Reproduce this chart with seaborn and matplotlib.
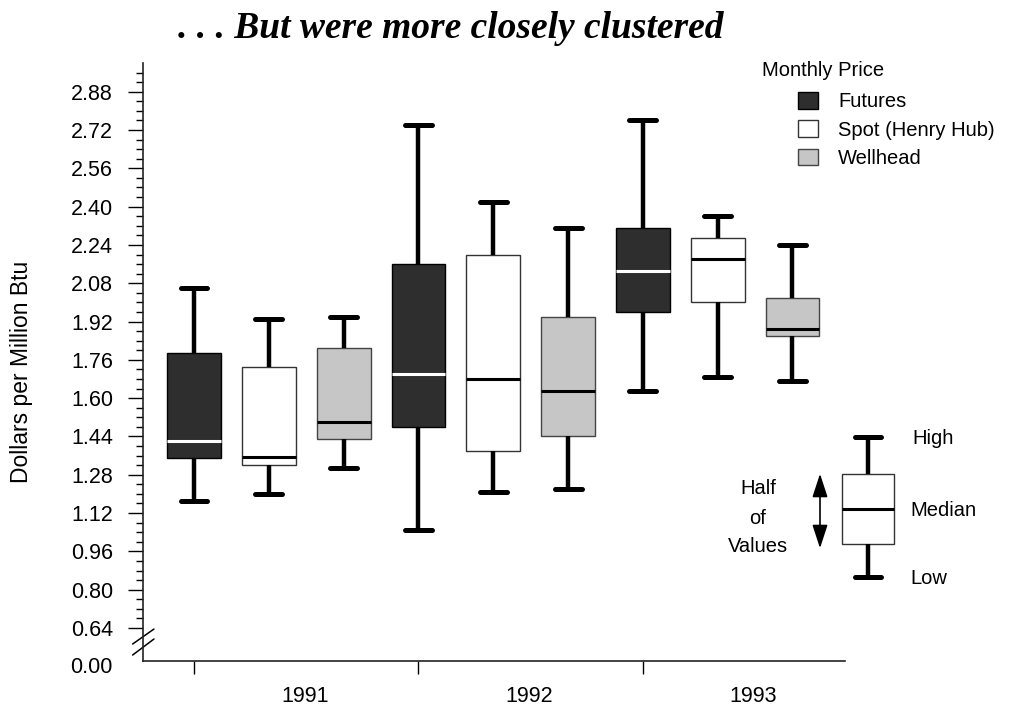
import numpy as np
import pandas as pd
import matplotlib.pyplot as plt
from matplotlib.patches import Patch, FancyArrowPatch
from matplotlib.ticker import FixedLocator
import seaborn as sns

# -----------------------------
# Data: low, lower quartile, median, upper quartile, high
# -----------------------------
years = ["1991", "1992", "1993"]
series = ["Futures", "Spot (Henry Hub)", "Wellhead"]

futures = [[1.17, 1.35, 1.42, 1.79, 2.06],
           [1.05, 1.48, 1.70, 2.16, 2.74],
           [1.63, 1.96, 2.13, 2.31, 2.76]]
spot = [[1.20, 1.32, 1.355, 1.73, 1.93],
        [1.21, 1.38, 1.68, 2.20, 2.42],
        [1.69, 2.00, 2.18, 2.27, 2.36]]
wellhead = [[1.31, 1.43, 1.50, 1.81, 1.94],
            [1.22, 1.44, 1.63, 1.94, 2.31],
            [1.67, 1.86, 1.89, 2.02, 2.24]]

y_ticks = [0.64, 0.80, 0.96, 1.12, 1.28, 1.44, 1.60, 1.76,
           1.92, 2.08, 2.24, 2.40, 2.56, 2.72, 2.88]

# illustrative box for the "how to read" key
key_values = [0, 33, 68, 103, 140]

rows = []
for name, stats in zip(series, [futures, spot, wellhead]):
    for year, vals in zip(years, stats):
        for v in vals:
            rows.append((year, name, v))
df = pd.DataFrame(rows, columns=["year", "series", "price"])

# Style
sns.set_style("ticks")
plt.rcParams["font.family"] = ["Liberation Sans", "DejaVu Sans"]
plt.rcParams["text.color"] = "black"
plt.rcParams["xtick.color"] = "black"
plt.rcParams["ytick.color"] = "black"

styles = {
    "Futures": dict(face="#2e2e2e", edge="black", median="white"),
    "Spot (Henry Hub)": dict(face="white", edge="#333333", median="black"),
    "Wellhead": dict(face="#c6c6c6", edge="#444444", median="black"),
}

fig = plt.figure(figsize=(10.21, 7.11), dpi=100)
ax = fig.add_axes([0.140, 0.0703, 0.688, 0.8411])

# -----------------------------
# Boxes, one series at a time so each gets its own median colour
# -----------------------------
for name in series:
    st = styles[name]
    sub = df[df["series"] == name]
    sns.boxplot(data=sub, x="year", y="price", hue="series",
                order=years, hue_order=series, dodge=True,
                width=1.0, gap=0.28, whis=(0, 100), saturation=1,
                palette={s: st["face"] for s in series},
                linecolor=st["edge"], linewidth=1.0,
                medianprops=dict(color=st["median"], linewidth=2.2),
                whiskerprops=dict(color="black", linewidth=3.2),
                capprops=dict(color="black", linewidth=3.6),
                legend=False, ax=ax)

# -----------------------------
# Axes
# -----------------------------
ax.set_xlim(-0.561, 2.569)
ax.set_ylim(0.502, 3.0)
sns.despine(ax=ax)
for side in ["left", "bottom"]:
    ax.spines[side].set_color("#222222")
    ax.spines[side].set_linewidth(1.2)

ax.set_yticks(y_ticks)
ax.set_yticklabels([f"{t:.2f}" for t in y_ticks], fontsize=15.5)
ax.yaxis.set_minor_locator(FixedLocator([t for t in np.arange(0.68, 2.97, 0.04)
                                         if min(abs(t - m) for m in y_ticks) > 0.01]))
ax.tick_params(axis="y", which="major", length=11, width=1.0, pad=10.5)
ax.tick_params(axis="y", which="minor", length=5, width=1.0)
ax.text(-0.0427, 0.474, "0.00", transform=ax.get_yaxis_transform(),
        ha="right", va="center", fontsize=15.5, clip_on=False)

ax.set_xticks([i - 1 / 3 for i in range(len(years))])
ax.set_xticklabels([])
ax.tick_params(axis="x", which="major", length=9, width=1.0)
for i, year in enumerate(years):
    ax.text(i + 0.16, -0.06, year, transform=ax.get_xaxis_transform(),
            ha="center", va="center", fontsize=15.5)
ax.set_xlabel("")
ax.set_ylabel("")

# axis break marks
for y0, y1 in [(0.0284, 0.0535), (0.0100, 0.0368)]:
    ax.plot([-0.0147, 0.0157], [y0, y1], transform=ax.transAxes,
            color="black", lw=1.1, clip_on=False)

fig.text(22 / 1021, 1 - 372 / 711, "Dollars per Million Btu", rotation=90,
         ha="center", va="center", fontsize=16.5)
fig.text(451 / 1021, 1 - 28 / 711, ". . . But were more closely clustered",
         family="Liberation Serif", weight="bold", style="italic",
         fontsize=27, ha="center", va="center")

# -----------------------------
# Legend
# -----------------------------
handles = [Patch(facecolor=styles[s]["face"], edgecolor=styles[s]["edge"], lw=1.0,
                 label=s) for s in series]
fig.text(762 / 1021, 1 - 71 / 711, "Monthly Price", ha="left", va="center", fontsize=14.5)
fig.legend(handles=handles, loc="upper left", bbox_to_anchor=(798 / 1021, 1 - 92 / 711),
           frameon=False, fontsize=14.5, handlelength=1.0, handleheight=0.9,
           handletextpad=1.0, labelspacing=0.45, borderpad=0, borderaxespad=0)

# -----------------------------
# Key: how to read a box
# -----------------------------
kax = fig.add_axes([816 / 1021, 126 / 711, 104 / 1021, 155 / 711])
sns.boxplot(y=key_values, ax=kax, width=1.0, whis=(0, 100), color="white",
            saturation=1, linecolor="#333333", linewidth=1.0,
            medianprops=dict(color="black", linewidth=2.2),
            whiskerprops=dict(color="black", linewidth=3.2),
            capprops=dict(color="black", linewidth=3.6))
kax.set_xlim(-1, 1)
kax.set_ylim(-8, 147)
kax.axis("off")

for label, px, py in [("High", 912, 438), ("Median", 910, 510), ("Low", 910, 578)]:
    fig.text(px / 1021, 1 - py / 711, label, ha="left", va="center", fontsize=14.5)
for label, py in [("Half", 488), ("of", 519), ("Values", 547)]:
    fig.text(758 / 1021, 1 - py / 711, label, ha="center", va="center", fontsize=14.5)
fig.add_artist(FancyArrowPatch((820 / 1021, 1 - 471 / 711), (820 / 1021, 1 - 551 / 711),
                               transform=fig.transFigure,
                               arrowstyle="<|-|>,head_length=0.72,head_width=0.235",
                               mutation_scale=20, lw=1.2, color="black"))

fig.savefig("out.png", dpi=100)
